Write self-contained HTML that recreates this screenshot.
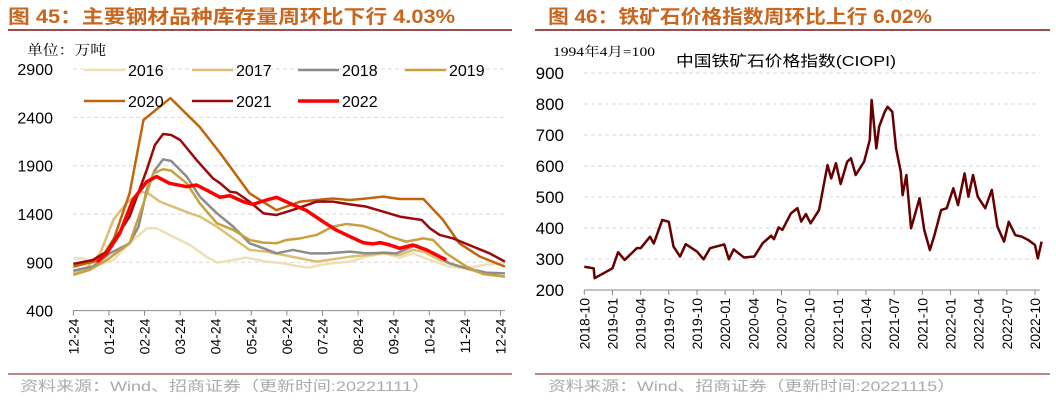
<!DOCTYPE html>
<html><head><meta charset="utf-8"><style>
body{margin:0;background:#fff;width:1056px;height:401px;overflow:hidden}
svg{display:block}
text{font-family:"Liberation Sans","Noto Sans CJK SC",sans-serif}
.ttl{font-size:19px;font-weight:bold;fill:#C8661E}
.tk{font-size:16px;fill:#000}
.rk{font-size:17px;fill:#000}
.xk{font-size:14px;fill:#000}
.src{font-size:14px;fill:#aaa}
</style></head><body>
<svg id="s" width="1056" height="401">
<text x="8" y="23" class="ttl" textLength="447" lengthAdjust="spacingAndGlyphs">图 45：主要钢材品种库存量周环比下行 4.03%</text>
<line x1="8" y1="30" x2="512" y2="30" stroke="#7B1010" stroke-width="1.5"/>
<text x="548" y="23" class="ttl" textLength="384" lengthAdjust="spacingAndGlyphs">图 46：铁矿石价格指数周环比上行 6.02%</text>
<line x1="535" y1="30" x2="1050" y2="30" stroke="#7B1010" stroke-width="1.5"/>
<text x="27" y="55" font-size="14" textLength="79" lengthAdjust="spacingAndGlyphs" style="font-family:'Liberation Serif','Noto Serif CJK SC',serif">单位：万吨</text>
<text x="553" y="56" font-size="13" textLength="102" lengthAdjust="spacingAndGlyphs" style="font-family:'Liberation Serif','Noto Serif CJK SC',serif">1994年4月=100</text>
<text x="676" y="66" font-size="15" textLength="220" lengthAdjust="spacingAndGlyphs">中国铁矿石价格指数(CIOPI)</text>
<line x1="8" y1="374" x2="512" y2="374" stroke="#7B1010" stroke-width="1"/>
<line x1="535" y1="374" x2="1050" y2="374" stroke="#7B1010" stroke-width="1"/>
<text x="20" y="391" class="src" textLength="410" lengthAdjust="spacingAndGlyphs">资料来源：Wind、招商证券（更新时间:20221111）</text>
<text x="548" y="391" class="src" textLength="407" lengthAdjust="spacingAndGlyphs">资料来源：Wind、招商证券（更新时间:20221115）</text>
<g id="L"></g><g id="R"></g>
</svg>
<script>
const leftTicks=[2900,2400,1900,1400,900,400];
const leftMonths=["12-24","01-24","02-24","03-24","04-24","05-24","06-24","07-24","08-24","09-24","10-24","11-24","12-24"];
const seriesNames=["2016","2017","2018","2019","2020","2021","2022"];
const s2016=[[0,941],[1.2,941],[2.9,872],[4.9,924],[6.9,1097],[9,1252],[10.2,1252],[11.4,1200],[12.2,1166],[14.3,1079],[16.3,958],[17.6,897],[19.6,924],[21.2,948],[23.7,907],[25.7,890],[27.8,855],[29,845],[30.2,872],[31.8,890],[33.9,907],[35.9,958],[38,993],[40,948],[41.6,993],[43.7,924],[46.1,855],[48.2,838],[50.2,872],[52.9,890]];
const s2017=[[0,786],[1.6,838],[3.3,993],[4.9,1338],[6.5,1511],[8.2,1631],[9.2,1614],[10.6,1528],[12.2,1476],[14.3,1407],[15.5,1373],[17.6,1269],[19.6,1148],[21.6,1028],[23.7,1010],[25.7,976],[27.8,941],[29.8,907],[31.8,931],[33.9,958],[35.9,976],[38,993],[40,976],[41.6,1028],[42.9,1010],[44.9,924],[47.3,855],[50.2,786],[52.9,752]];
const s2018=[[0,814],[2.4,855],[4.5,993],[6.9,1097],[8,1269],[9,1649],[10,1856],[11,1966],[12,1949],[13.9,1787],[15.5,1580],[17.6,1407],[19.6,1269],[21.6,1097],[23.3,1045],[24.9,993],[26.9,1028],[29,993],[31,993],[33.9,1010],[35.9,993],[38,1000],[39.6,993],[42,1079],[44.1,993],[46.1,890],[48.2,838],[50.6,793],[52.9,786]];
const s2019=[[0,769],[2,821],[4.1,924],[6.9,1097],[8.6,1511],[9.8,1821],[11,1863],[12,1849],[13.9,1718],[15.5,1511],[17.6,1304],[19.6,1235],[21.6,1131],[23.3,1104],[24.9,1097],[26.1,1131],[27.8,1148],[29.8,1183],[31.8,1269],[33.5,1297],[35.5,1276],[37.6,1217],[38.8,1166],[40.8,1114],[42.9,1148],[44.1,1131],[45.7,993],[48.2,855],[50.2,779],[52.9,752]];
const s2020=[[0,855],[3.3,925],[5,1150],[6.9,1614],[8.6,2373],[11.9,2600],[15.5,2300],[18,2030],[21.6,1614],[24.9,1440],[27.8,1528],[29.8,1545],[31.8,1560],[33.9,1545],[35.9,1560],[38,1580],[40,1555],[42.9,1555],[45.3,1340],[47.3,1097],[49.8,960],[52.9,855]];
const s2021=[[0,883],[2.4,924],[4.1,1010],[6.9,1373],[9,1856],[10,2114],[11,2228],[12,2218],[13.1,2166],[15.1,1960],[17.1,1770],[18,1718],[19.2,1631],[20,1621],[21.6,1528],[23.3,1407],[24.9,1390],[26.9,1442],[29.8,1528],[31.8,1528],[33.9,1500],[35.9,1476],[38,1424],[40,1373],[42.7,1338],[43.7,1252],[44.9,1183],[46.5,1148],[49,1062],[51,993],[52.9,907]];
const s2022=[[2.9,907],[4.1,993],[5.7,1200],[7.3,1545],[9,1735],[10.2,1787],[11.8,1718],[13.9,1683],[15.1,1700],[16.3,1649],[18,1573],[19.2,1590],[20.8,1528],[22,1500],[23.7,1545],[24.9,1573],[26.5,1511],[28.6,1435],[30.6,1321],[32.2,1235],[33.9,1166],[35.5,1104],[36.7,1090],[37.6,1104],[38.8,1079],[40,1045],[41.6,1079],[43.3,1028],[45.7,924]];
const rightTicks=[900,800,700,600,500,400,300,200];
const rightLabels=["2018-10","2019-01","2019-04","2019-07","2019-10","2020-01","2020-04","2020-07","2020-10","2021-01","2021-04","2021-07","2021-10","2022-01","2022-04","2022-07","2022-10"];
const ciopi=[[0,275],[1,270],[1.1,238],[3,270],[3.6,322],[4.3,297],[5.6,335],[6,335],[7,372],[7.4,350],[8.3,426],[9,420],[9.5,340],[10.2,308],[10.8,348],[12,324],[12.7,299],[13.4,335],[14.9,347],[15.4,299],[15.9,331],[17,305],[18.1,308],[19,351],[19.9,375],[20.2,364],[20.7,402],[21.1,394],[22,447],[22.7,464],[23.1,421],[23.6,445],[24.1,415],[25,458],[25.9,603],[26.3,560],[26.8,609],[27.3,542],[28,614],[28.4,625],[28.9,571],[29.8,614],[30.4,684],[30.6,813],[31.1,657],[31.4,727],[32,775],[32.3,791],[32.8,775],[33.2,657],[33.7,582],[33.9,506],[34.3,571],[34.8,399],[35.2,442],[35.7,496],[36.2,394],[36.8,329],[37.3,378],[38,458],[38.6,464],[39.3,528],[39.8,474],[40.5,576],[40.9,501],[41.4,571],[41.9,501],[42.7,464],[43.4,523],[44,404],[44.7,356],[45.2,420],[45.9,377],[46.6,372],[47.3,361],[48,345],[48.3,302],[48.7,356]];

const NS="http://www.w3.org/2000/svg";
function mk(p,t,a){const e=document.createElementNS(NS,t);for(const k in a)e.setAttribute(k,a[k]);p.appendChild(e);return e;}
const lx=w=>73.3+w*8.16, ly=v=>310.6-(v-400)*48.3/500;
const L=document.getElementById('L');
leftTicks.forEach(v=>{
 if(v>400){const g=mk(L,'line',{x1:73,x2:505,y1:ly(v),y2:ly(v),stroke:'#d9d9d9','stroke-dasharray':'4,3'});
 
 }
 const t=mk(L,'text',{x:53,y:ly(v)+6,'text-anchor':'end',class:'tk'});t.textContent=v;
 
 
});
const la=mk(L,'line',{x1:73,x2:505,y1:ly(400),y2:ly(400),stroke:'#888'});


leftMonths.forEach((m,i)=>{
 const x=73.3+i*35.6;
 const tk=mk(L,'line',{x1:x,x2:x,y1:ly(400),y2:ly(400)+5,stroke:'#888'});
 
 
 const t=mk(L,'text',{x:0,y:0,'text-anchor':'end',class:'xk',transform:`translate(${x+5},${ly(400)+8}) rotate(-90)`});t.textContent=m;
 
 
});
const colors=['#EFDFB5','#DDBF72','#8C8C8C','#C9A040','#C0650A','#9B0A0A','#FF0000'];
const widths=[2.5,2.5,2.5,2.5,2.5,2.5,3.5];
const all=[s2016,s2017,s2018,s2019,s2020,s2021,s2022];
all.forEach((s,i)=>{
 const p=mk(L,'polyline',{points:s.map(d=>lx(d[0])+','+ly(d[1])).join(' '),fill:'none',stroke:colors[i],'stroke-width':widths[i],'stroke-linejoin':'round'});
 
 
});
const legPos=[[84,70],[192,70],[298,70],[405,70],[84,101],[192,101],[298,101]];
seriesNames.forEach((n,i)=>{
 const [x,y]=legPos[i];
 const g=mk(L,'g',{});
 
 
 mk(g,'line',{x1:x,x2:x+41,y1:y,y2:y,stroke:colors[i],'stroke-width':widths[i]});
 const t=mk(g,'text',{x:x+44,y:y+6,class:'tk'});t.textContent=n;
});
const rx=m=>584.3+m*9.39, ry=v=>290-(v-200)*31/100;
const R=document.getElementById('R');
rightTicks.forEach(v=>{
 if(v>200){const g=mk(R,'line',{x1:584,x2:1040,y1:ry(v),y2:ry(v),stroke:'#d9d9d9','stroke-dasharray':'4,3'});
 
 }
 const t=mk(R,'text',{x:564,y:ry(v)+6,'text-anchor':'end',class:'rk'});t.textContent=v;
 
 
});
const ra=mk(R,'line',{x1:584,x2:1040,y1:ry(200),y2:ry(200),stroke:'#888'});


rightLabels.forEach((m,i)=>{
 const x=rx(i*3);
 const tk=mk(R,'line',{x1:x,x2:x,y1:ry(200),y2:ry(200)+5,stroke:'#888'});
 
 
 const t=mk(R,'text',{x:0,y:0,'text-anchor':'end',class:'xk',transform:`translate(${x+5},${ry(200)+8}) rotate(-90)`});t.textContent=m;
 
 
});
const cp=mk(R,'polyline',{points:ciopi.map(d=>rx(d[0])+','+ry(d[1])).join(' '),fill:'none',stroke:'#660000','stroke-width':2.5,'stroke-linejoin':'round'});


</script>
</body></html>
